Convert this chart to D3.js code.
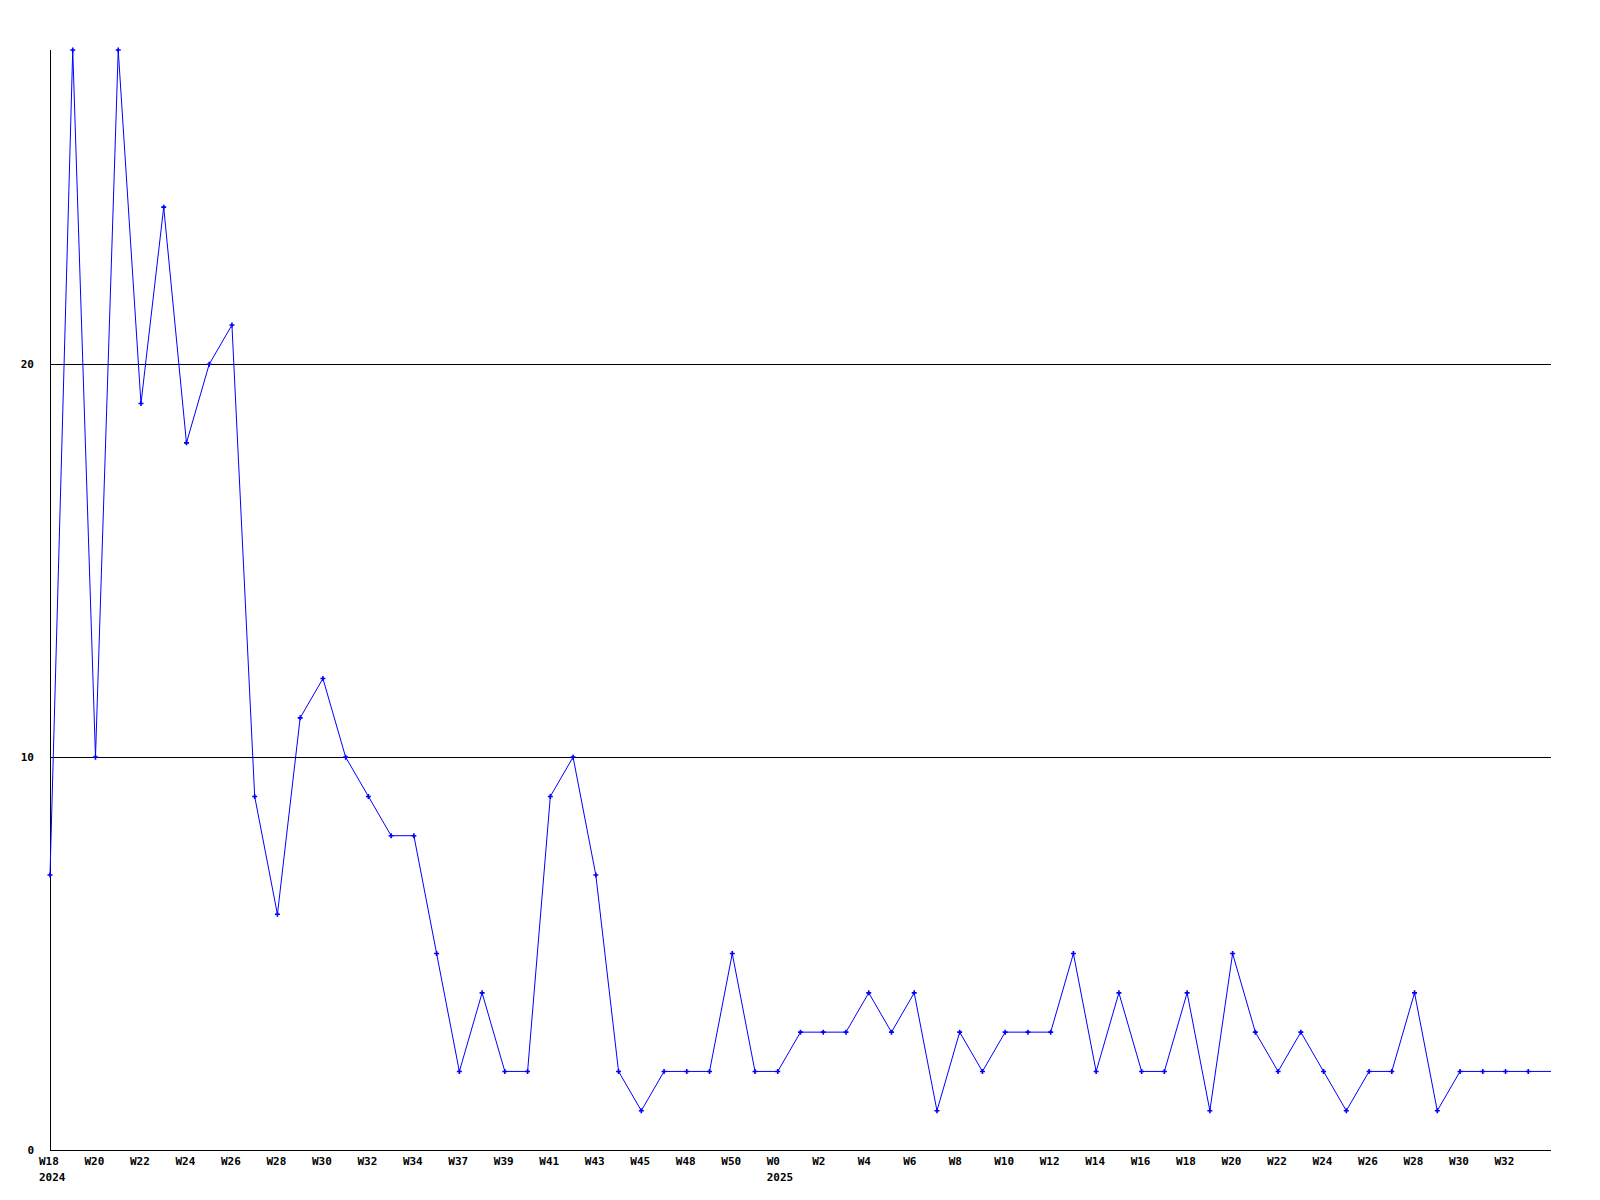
<!DOCTYPE html>
<html>
<head>
<meta charset="utf-8">
<script src="https://cdn.jsdelivr.net/npm/d3@7"></script>
<style>
  html, body { margin: 0; padding: 0; background: #fff; }
  svg text { font-family: "DejaVu Sans Mono", "Liberation Mono", monospace; font-weight: bold; font-size: 11px; fill: #000; }
</style>
</head>
<body>
<svg id="chart" width="1600" height="1200"></svg>
<script>
// ---- data ----
const weeks = [
  "W18","W19","W20","W21","W22","W23","W24","W25","W26","W27",
  "W28","W29","W30","W31","W32","W33","W34","W36","W37","W38",
  "W39","W40","W41","W42","W43","W44","W45","W47","W48","W49",
  "W50","W51","W0","W1","W2","W3","W4","W5","W6","W7",
  "W8","W9","W10","W11","W12","W13","W14","W15","W16","W17",
  "W18","W19","W20","W21","W22","W23","W24","W25","W26","W27",
  "W28","W29","W30","W31","W32","W33","W34"
];
const values = [
  7,28,10,28,19,24,18,20,21,9,
  6,11,12,10,9,8,8,5,2,4,
  2,2,9,10,7,2,1,2,2,2,
  5,2,2,3,3,3,4,3,4,1,
  3,2,3,3,3,5,2,4,2,2,
  4,1,5,3,2,3,2,1,2,2,
  4,1,2,2,2,2,2
];
const yTicks = [0, 10, 20];
const yearLabels = [{ index: 0, label: "2024" }, { index: 32, label: "2025" }];
const yMax = 28;

// ---- layout ----
const mLeft = 50, mRight = 1551, mTop = 50, mBottom = 1150;
const labelOffset = -11;
const svg = d3.select("#chart");

const x = d3.scaleLinear().domain([0, values.length - 1]).range([mLeft, mRight]);
const y = d3.scaleLinear().domain([0, yMax]).range([mBottom, mTop]);

// gridlines
svg.append("g").selectAll("line").data(yTicks.filter(d => d > 0)).join("line")
  .attr("x1", mLeft).attr("x2", mRight)
  .attr("y1", d => Math.round(y(d)) + 0.5).attr("y2", d => Math.round(y(d)) + 0.5)
  .attr("stroke", "#000").attr("stroke-width", 1).attr("shape-rendering", "crispEdges");

// y labels
svg.append("g").selectAll("text").data(yTicks).join("text")
  .attr("x", 34).attr("y", d => y(d)).attr("dy", "0.35em")
  .attr("text-anchor", "end").text(d => d);

// axes lines
svg.append("line").attr("x1", mLeft + 0.5).attr("x2", mLeft + 0.5).attr("y1", mTop).attr("y2", mBottom + 0.5)
  .attr("stroke", "#000").attr("shape-rendering", "crispEdges");
svg.append("line").attr("x1", mLeft).attr("x2", mRight).attr("y1", mBottom + 0.5).attr("y2", mBottom + 0.5)
  .attr("stroke", "#000").attr("shape-rendering", "crispEdges");

// x labels (every second point), left-aligned a fixed offset before the point
const labelIdx = d3.range(0, values.length, 2).filter(i => i < values.length - 1);
svg.append("g").selectAll("text").data(labelIdx).join("text")
  .attr("x", i => x(i) + labelOffset).attr("y", 1165)
  .attr("text-anchor", "start").text(i => weeks[i]);

// year labels
svg.append("g").selectAll("text").data(yearLabels).join("text")
  .attr("x", d => x(d.index) + labelOffset)
  .attr("y", 1181).attr("text-anchor", "start").text(d => d.label);

// line
const line = d3.line().x((d, i) => x(i)).y(d => y(d));
svg.append("path").datum(values)
  .attr("d", line).attr("fill", "none").attr("stroke", "#0000ff").attr("stroke-width", 1);

// markers (last point sits on the frame edge, no marker)
svg.append("g").selectAll("path").data(values.slice(0, values.length - 1)).join("path")
  .attr("transform", (d, i) => `translate(${x(i)},${y(d)})`)
  .attr("d", "M-2.5,0H2.5M0,-2.5V2.5")
  .attr("stroke", "#0000ff").attr("stroke-width", 1.6).attr("fill", "none");
</script>
</body>
</html>
